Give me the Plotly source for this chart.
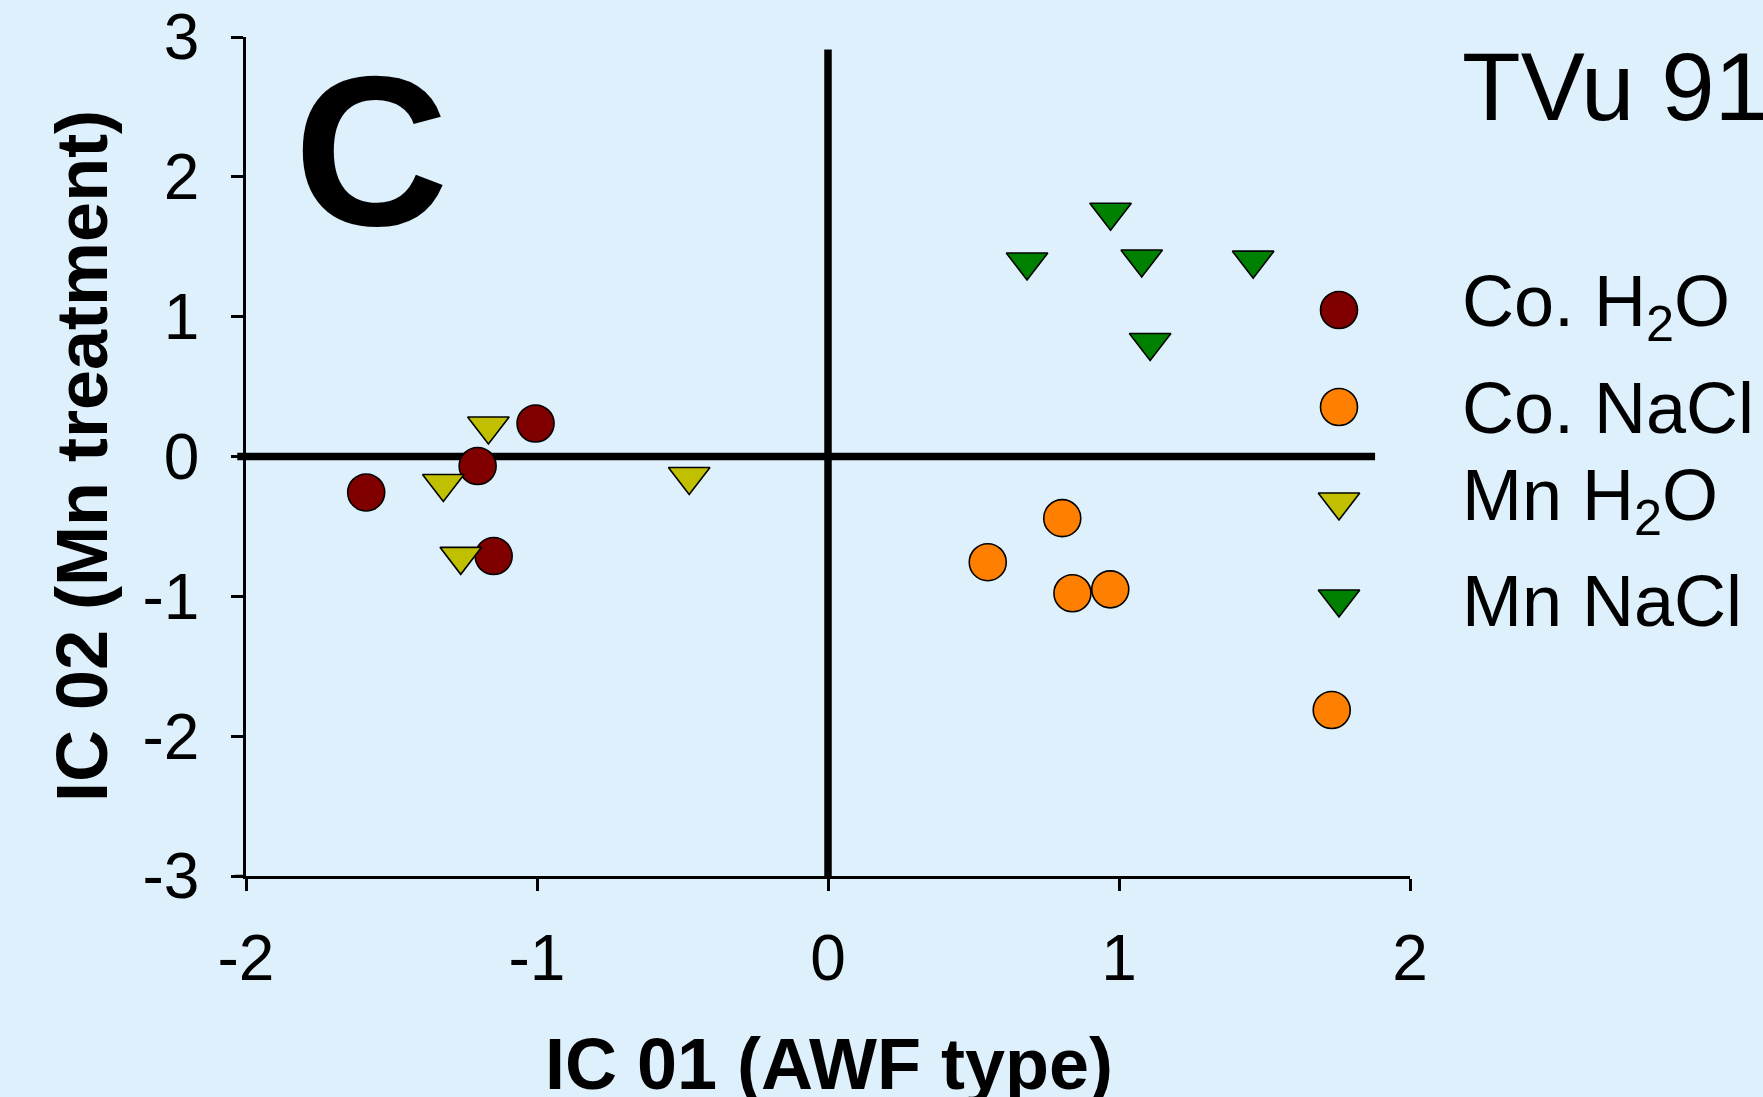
import plotly.graph_objects as go

# ---------------- data ----------------
co_h2o_x = [-1.587, -1.204, -1.005, -1.149]
co_h2o_y = [-0.257, -0.068, 0.236, -0.712]

co_nacl_x = [0.805, 0.549, 0.840, 0.970, 1.731]
co_nacl_y = [-0.441, -0.756, -0.978, -0.950, -1.813]

mn_h2o_x = [-1.167, -1.322, -1.262, -0.477]
mn_h2o_y = [0.218, -0.193, -0.714, -0.143]

mn_nacl_x = [0.971, 0.684, 1.078, 1.461, 1.107]
mn_nacl_y = [1.747, 1.391, 1.412, 1.404, 0.815]

series_names = ["Co. H<sub>2</sub>O", "Co. NaCl", "Mn H<sub>2</sub>O", "Mn NaCl"]
x_ticks = [-2, -1, 0, 1, 2]
x_ticktext = ["-2", "-1", "0", "1", "2"]
y_ticks = [-3, -2, -1, 0, 1, 2, 3]
y_ticktext = ["-3", "-2", "-1", "0", "1", "2", "3"]
x_range = [-2, 2]
y_range = [-3, 3]
panel_label = "C"
cultivar = "TVu 91"
x_title = "IC 01 (AWF type)"
y_title = "IC 02 (Mn treatment)"

# ---------------- layout geometry ----------------
FW, FH = 1763, 1097
L, R, T, B = 246, 353, 37, 221
PW, PH = FW - L - R, FH - T - B

def px_x(px):
    return (px - L) / PW

def px_y(py):
    return (FH - B - py) / PH

FONT = "Liberation Sans, Arial, Helvetica, sans-serif"
BG = "#ddf0fb"

colors = ["#800000", "#ff8000", "#c0c000", "#008000"]
symbols = ["circle", "circle", "triangle-down", "triangle-down"]
sizes = [37, 37, 36, 36]

series = [
    (co_h2o_x, co_h2o_y),
    (co_nacl_x, co_nacl_y),
    (mn_h2o_x, mn_h2o_y),
    (mn_nacl_x, mn_nacl_y),
]

fig = go.Figure()

for (xs, ys), name, c, s, sz in zip(series, series_names, colors, symbols, sizes):
    fig.add_trace(go.Scatter(
        x=xs, y=ys, mode="markers", name=name, showlegend=False,
        marker=dict(color=c, symbol=s, size=sz, line=dict(color="black", width=1.6)),
        cliponaxis=False,
    ))

# manual legend (markers on an overlay axis spanning the plot area)
leg_mx = px_x(1339)
leg_my = [px_y(310), px_y(407), px_y(502), px_y(599)]
for i, (name, c, s, sz) in enumerate(zip(series_names, colors, symbols, sizes)):
    fig.add_trace(go.Scatter(
        x=[leg_mx], y=[leg_my[i]], xaxis="x2", yaxis="y2", mode="markers",
        showlegend=False, hoverinfo="skip",
        marker=dict(color=c, symbol=s, size=sz, line=dict(color="black", width=1.6)),
        cliponaxis=False,
    ))

leg_ty = [px_y(306), px_y(408), px_y(500), px_y(601)]
annotations = []
for name, ty in zip(series_names, leg_ty):
    annotations.append(dict(
        text=name, xref="paper", yref="paper", x=px_x(1460), y=ty,
        xanchor="left", yanchor="middle", showarrow=False,
        font=dict(family=FONT, size=72, color="black"),
    ))

annotations += [
    dict(text="<b>%s</b>" % panel_label, xref="paper", yref="paper",
         x=px_x(371), y=px_y(150), xanchor="center", yanchor="middle",
         showarrow=False, font=dict(family=FONT, size=214, color="black")),
    dict(text=cultivar, xref="paper", yref="paper",
         x=px_x(1460), y=px_y(87), xanchor="left", yanchor="middle",
         showarrow=False, font=dict(family=FONT, size=96, color="black")),
    dict(text="<b>%s</b>" % x_title, xref="paper", yref="paper",
         x=px_x(829), y=px_y(1064), xanchor="center", yanchor="middle",
         showarrow=False, font=dict(family=FONT, size=72, color="black")),
    dict(text="<b>%s</b>" % y_title, xref="paper", yref="paper",
         x=px_x(82), y=px_y(456), xanchor="center", yanchor="middle",
         textangle=-90, showarrow=False,
         font=dict(family=FONT, size=72, color="black")),
]

# reference lines through the origin
hline_x = [-2.03, 1.88]
vline_y = [-3.0, 2.91]
shapes = [
    dict(type="line", xref="x domain", yref="y",
         x0=(hline_x[0] - x_range[0]) / (x_range[1] - x_range[0]),
         x1=(hline_x[1] - x_range[0]) / (x_range[1] - x_range[0]),
         y0=0, y1=0, line=dict(color="black", width=7.5), layer="below"),
    dict(type="line", xref="x", yref="y", x0=0, x1=0,
         y0=vline_y[0], y1=vline_y[1], line=dict(color="black", width=7.5), layer="below"),
    # small extension of the x axis line to the left
    dict(type="line", xref="x domain", yref="y domain", x0=-0.0095, x1=0,
         y0=0, y1=0, line=dict(color="black", width=2.5)),
]

axis_common = dict(ticks="outside", ticklen=12, tickwidth=2.5, tickcolor="black",
                   showline=True, linecolor="black", linewidth=2.5,
                   showgrid=False, zeroline=False, automargin=False,
                   tickfont=dict(family=FONT, size=64, color="black"))

fig.update_layout(
    width=FW, height=FH, autosize=False,
    margin=dict(l=L, r=R, t=T, b=B, pad=0, autoexpand=False),
    paper_bgcolor=BG, plot_bgcolor=BG,
    showlegend=False,
    xaxis=dict(range=x_range, tickvals=x_ticks, ticktext=x_ticktext,
               ticklabelstandoff=12, **axis_common),
    yaxis=dict(range=y_range, tickvals=y_ticks, ticktext=y_ticktext,
               ticklabelstandoff=19, **axis_common),
    xaxis2=dict(overlaying="x", range=[0, 1], visible=False),
    yaxis2=dict(overlaying="y", range=[0, 1], visible=False),
    annotations=annotations,
    shapes=shapes,
)

fig.write_html("out.html")
